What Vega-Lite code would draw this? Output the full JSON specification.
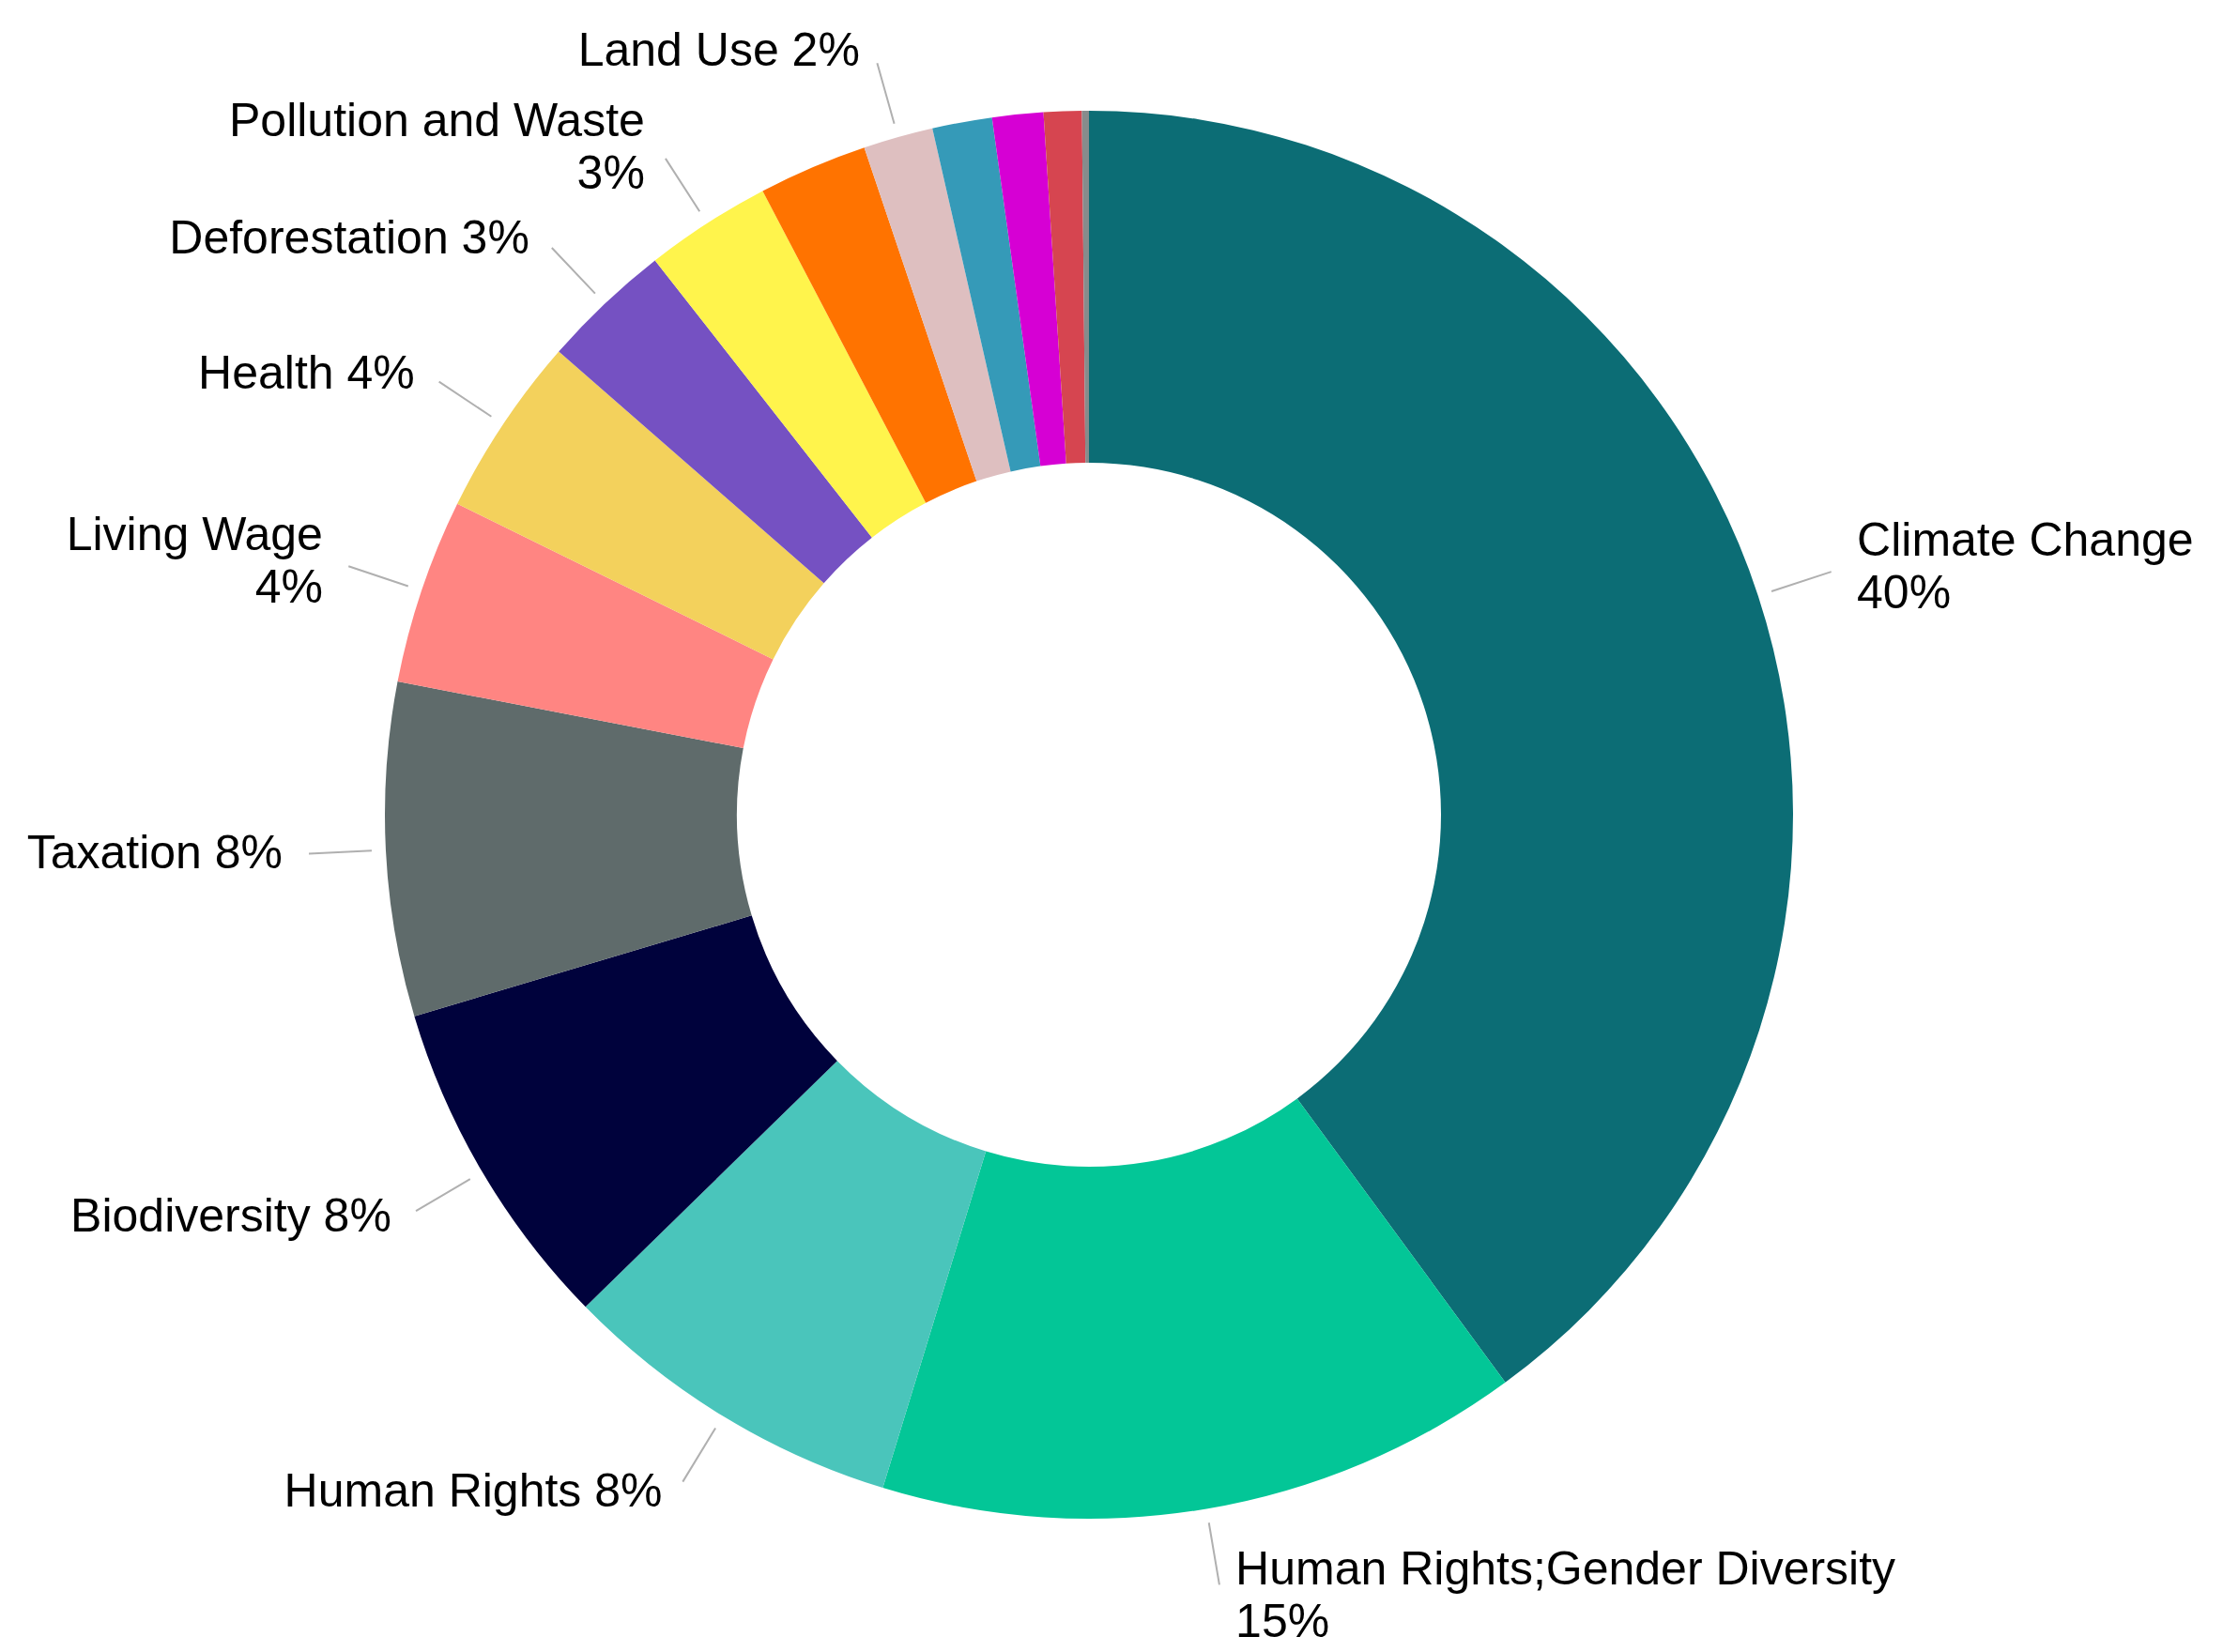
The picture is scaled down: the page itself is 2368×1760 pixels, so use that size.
{
  "$schema": "https://vega.github.io/schema/vega-lite/v6.json",
  "width": 2320,
  "height": 1736,
  "autosize": {"type": "none"},
  "padding": {"left": 0, "top": 0, "right": 48, "bottom": 24},
  "background": "white",
  "view": {"stroke": null},
  "data": {
    "values": [
      {"order": 1, "topic": "Climate Change", "value": 39.93, "label": "Climate Change\n40%"},
      {"order": 2, "topic": "Human Rights;Gender Diversity", "value": 14.8, "label": "Human Rights;Gender Diversity\n15%"},
      {"order": 3, "topic": "Human Rights", "value": 7.95, "label": "Human Rights 8%"},
      {"order": 4, "topic": "Biodiversity", "value": 7.7, "label": "Biodiversity 8%"},
      {"order": 5, "topic": "Taxation", "value": 7.65, "label": "Taxation 8%"},
      {"order": 6, "topic": "Living Wage", "value": 4.25, "label": "Living Wage\n4%"},
      {"order": 7, "topic": "Health", "value": 4.15, "label": "Health 4%"},
      {"order": 8, "topic": "Deforestation", "value": 3.0, "label": "Deforestation 3%"},
      {"order": 9, "topic": "Pollution and Waste", "value": 2.9, "label": "Pollution and Waste\n3%"},
      {"order": 10, "topic": "Other A", "value": 2.5, "label": ""},
      {"order": 11, "topic": "Land Use", "value": 1.6, "label": "Land Use 2%"},
      {"order": 12, "topic": "Other B", "value": 1.37, "label": ""},
      {"order": 13, "topic": "Other C", "value": 1.17, "label": ""},
      {"order": 14, "topic": "Other D", "value": 0.87, "label": ""},
      {"order": 15, "topic": "Other E", "value": 0.16, "label": ""}
    ]
  },
  "transform": [
    {"stack": "value", "groupby": [], "sort": [{"field": "order", "order": "ascending"}], "as": ["start", "end"]},
    {"calculate": "(datum.start + datum.end) / 2", "as": "mid"}
  ],
  "layer": [
    {
      "mark": {"type": "arc", "innerRadius": 375, "outerRadius": 750},
      "encoding": {
        "theta": {"field": "start", "type": "quantitative", "scale": {"domain": [0, 100]}, "stack": null},
        "theta2": {"field": "end"},
        "color": {
          "field": "topic",
          "type": "nominal",
          "legend": null,
          "scale": {
            "domain": ["Climate Change", "Human Rights;Gender Diversity", "Human Rights", "Biodiversity", "Taxation", "Living Wage", "Health", "Deforestation", "Pollution and Waste", "Other A", "Land Use", "Other B", "Other C", "Other D", "Other E"],
            "range": ["#0C6D75", "#03C697", "#4AC5BB", "#00023C", "#5F6B6B", "#FF8582", "#F3D15C", "#7551C2", "#FFF44C", "#FF7300", "#DEBFC0", "#359AB8", "#D600D4", "#D64550", "#878C8C"]
          }
        }
      }
    },
    {
      "transform": [{"filter": "datum.label != ''"}],
      "mark": {"type": "arc", "innerRadius": 765, "outerRadius": 832, "filled": false, "stroke": "#b0b0b0", "strokeWidth": 2},
      "encoding": {
        "theta": {"field": "mid", "type": "quantitative", "stack": null},
        "theta2": {"field": "mid"}
      }
    },
    {
      "transform": [{"filter": "datum.label != '' && datum.mid < 50"}],
      "mark": {"type": "text", "radius": 845, "align": "left", "baseline": "middle", "fontSize": 50, "font": "Liberation Sans", "color": "black", "lineBreak": "\n", "lineHeight": 56, "dx": 15, "dy": -28},
      "encoding": {
        "theta": {"field": "mid", "type": "quantitative", "stack": null},
        "text": {"field": "label"}
      }
    },
    {
      "transform": [{"filter": "datum.label != '' && datum.mid >= 50 && indexof(datum.label, '\\n') >= 0"}],
      "mark": {"type": "text", "radius": 845, "align": "right", "baseline": "middle", "fontSize": 50, "font": "Liberation Sans", "color": "black", "lineBreak": "\n", "lineHeight": 56, "dx": -15, "dy": -28},
      "encoding": {
        "theta": {"field": "mid", "type": "quantitative", "stack": null},
        "text": {"field": "label"}
      }
    },
    {
      "transform": [{"filter": "datum.label != '' && datum.mid >= 50 && indexof(datum.label, '\\n') < 0"}],
      "mark": {"type": "text", "radius": 845, "align": "right", "baseline": "middle", "fontSize": 50, "font": "Liberation Sans", "color": "black", "dx": -15},
      "encoding": {
        "theta": {"field": "mid", "type": "quantitative", "stack": null},
        "text": {"field": "label"}
      }
    }
  ]
}
